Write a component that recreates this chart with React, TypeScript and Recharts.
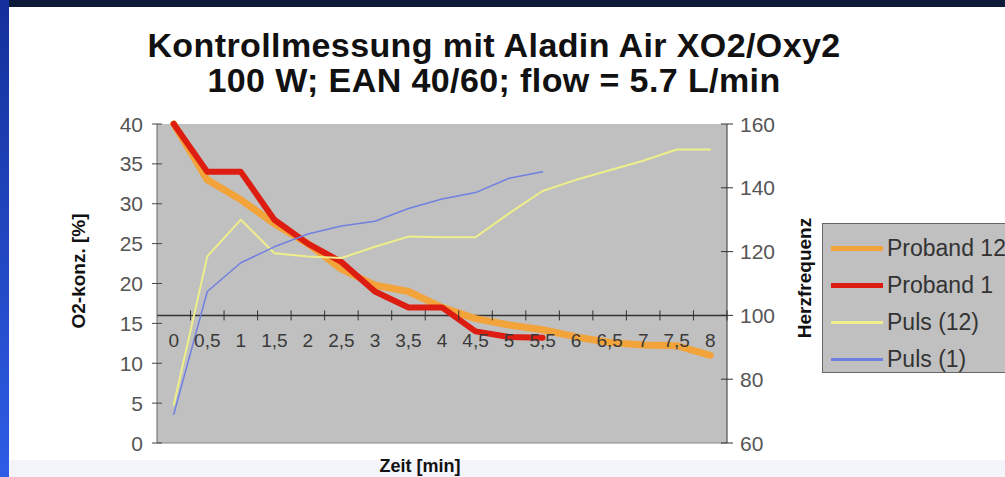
import {
  CartesianGrid,
  Legend,
  Line,
  LineChart,
  ReferenceLine,
  XAxis,
  YAxis,
} from "recharts";
import { JSX } from "react";

const times = ["0", "0,5", "1", "1,5", "2", "2,5", "3", "3,5", "4", "4,5", "5", "5,5", "6", "6,5", "7", "7,5", "8"];
const proband12 = [40, 33, 30.5, 27.5, 25, 21.8, 19.8, 19, 17, 15.6, 14.8, 14.2, 13.3, 12.6, 12.3, 12.2, 11];
const proband1 = [40, 34, 34, 28, 25, 22.7, 19, 17, 17, 14, 13.3, 13.2];
const puls12 = [72, 118.5, 130, 119.5, 118.5, 118, 121.5, 124.7, 124.5, 124.5, 132, 139, 142.5, 145.5, 148.5, 152, 152];
const puls1 = [69, 107.5, 116.5, 121.5, 125.5, 128, 129.5, 133.5, 136.5, 138.5, 143, 145];
const o2Ticks = [0, 5, 10, 15, 20, 25, 30, 35, 40];
const hrTicks = [60, 80, 100, 120, 140, 160];
const X_CROSS = 16;

const data = times.map((t, i) => ({
  t,
  proband12: proband12[i] ?? null,
  proband1: proband1[i] ?? null,
  puls12: puls12[i] ?? null,
  puls1: puls1[i] ?? null,
}));

const series = [
  { key: "proband12", name: "Proband 12", color: "#f2a33a", width: 7, legendW: 5, axis: "o2" },
  { key: "proband1", name: "Proband 1", color: "#dd1c12", width: 6, legendW: 5, axis: "o2" },
  { key: "puls12", name: "Puls (12)", color: "#eeee8a", width: 2, legendW: 3, axis: "hr" },
  { key: "puls1", name: "Puls (1)", color: "#6f80e0", width: 1.5, legendW: 2.5, axis: "hr" },
];

const W = 1005;
const H = 477;
const margin = { top: 124, right: 218, bottom: 32, left: 97 };
const X_AXIS_H = 2;
const PLOT_W = W - margin.left - margin.right - 120;
const PLOT_H = H - margin.top - margin.bottom - X_AXIS_H;
const STEP = PLOT_W / times.length;
const FONT = "'Liberation Sans', Arial, sans-serif";

function LeftTick(props: any): JSX.Element {
  const { x, y, payload } = props;
  return (
    <g>
      <line x1={x + 9} x2={x + 19} y1={y} y2={y} stroke="#444" />
      <text x={x} y={y} dy="0.36em" textAnchor="end" fill="#555" fontSize={21} fontFamily={FONT}>
        {payload.value}
      </text>
    </g>
  );
}

function RightTick(props: any): JSX.Element {
  const { x, y, payload } = props;
  return (
    <g>
      <line x1={x - 19} x2={x - 7} y1={y} y2={y} stroke="#333" />
      <text x={x} y={y} dy="0.36em" textAnchor="start" fill="#555" fontSize={21} fontFamily={FONT}>
        {payload.value}
      </text>
    </g>
  );
}

function TimeTick(props: any): JSX.Element {
  const { x, y, payload } = props;
  const cross = y - (PLOT_H * X_CROSS) / 40;
  return (
    <g>
      <line x1={x + STEP / 2} x2={x + STEP / 2} y1={cross - 5} y2={cross + 5} stroke="#333" />
      <text x={x} y={cross + 25} dy="0.36em" textAnchor="middle" fill="#3a3a3a" fontSize={19} fontFamily={FONT}>
        {payload.value}
      </text>
    </g>
  );
}

function LegendBox(): JSX.Element {
  return (
    <div
      style={{
        background: "#c0c0c0",
        border: "1.5px solid #666",
        width: 200,
        height: 150,
        boxSizing: "border-box",
        paddingTop: 6,
        fontFamily: FONT,
      }}
    >
      {series.map((s) => (
        <div key={s.key} style={{ display: "flex", alignItems: "center", height: 37 }}>
          <div style={{ width: 52, height: s.legendW, background: s.color, marginLeft: 8, marginRight: 4 }} />
          <span style={{ fontSize: 23, color: "#333", whiteSpace: "nowrap" }}>{s.name}</span>
        </div>
      ))}
    </div>
  );
}

const abs = (left: number, top: number, extra: object = {}) =>
  ({ position: "absolute", left, top, transform: "translate(-50%, -50%)", whiteSpace: "nowrap", fontFamily: FONT, ...extra }) as const;

const titleStyle = { fontSize: 34, lineHeight: "34px", fontWeight: "bold", color: "#111", letterSpacing: 0.4 };

export default function App(): JSX.Element {
  return (
    <div style={{ position: "absolute", left: 0, top: 0, width: W, height: H, overflow: "hidden", background: "#fff" }}>
      <div style={{ position: "absolute", left: 0, top: 0, width: W, height: 7, background: "#0d1a38" }} />
      <div style={{ position: "absolute", left: 0, top: 0, width: 9, height: H, background: "linear-gradient(#14309a, #2d5de6)" }} />
      <div style={{ position: "absolute", left: 9, top: 460, width: W, height: 17, background: "#f3f5fa" }} />

      <div style={abs(494, 45, titleStyle)}>Kontrollmessung mit Aladin Air XO2/Oxy2</div>
      <div style={abs(494, 80, titleStyle)}>100 W; EAN 40/60; flow = 5.7 L/min</div>

      <div style={{ position: "absolute", left: 0, top: 0 }}>
        <LineChart width={W} height={H} data={data} margin={margin}>
          <CartesianGrid fill="#c0c0c0" stroke="none" horizontal={false} vertical={false} yAxisId="o2" />
          <XAxis
            dataKey="t"
            height={X_AXIS_H}
            axisLine={false}
            tickLine={false}
            tickSize={0}
            tickMargin={0}
            interval={0}
            padding={{ left: STEP / 2, right: STEP / 2 }}
            tick={(p: any) => <TimeTick {...p} />}
          />
          <YAxis
            yAxisId="o2"
            orientation="left"
            width={60}
            domain={[0, 40]}
            ticks={o2Ticks}
            tickSize={6}
            tickMargin={8}
            tickLine={false}
            axisLine={{ stroke: "#666" }}
            tick={<LeftTick />}
          />
          <YAxis
            yAxisId="hr"
            orientation="right"
            width={60}
            domain={[60, 160]}
            ticks={hrTicks}
            tickSize={6}
            tickMargin={7}
            tickLine={false}
            axisLine={{ stroke: "#333" }}
            tick={<RightTick />}
          />
          <ReferenceLine yAxisId="o2" y={0} stroke="#888" />
          <ReferenceLine yAxisId="o2" y={X_CROSS} stroke="#333" strokeWidth={1.5} />
          {series.map((s) => (
            <Line
              key={s.key}
              yAxisId={s.axis}
              dataKey={s.key}
              name={s.name}
              type="linear"
              stroke={s.color}
              strokeWidth={s.width}
              strokeLinejoin="round"
              strokeLinecap="round"
              dot={false}
              activeDot={false}
              isAnimationActive={false}
            />
          ))}
          <Legend
            layout="vertical"
            verticalAlign="middle"
            align="center"
            content={<LegendBox />}
            wrapperStyle={{ position: "absolute", left: 822, top: 223, width: 200 }}
          />
        </LineChart>
      </div>

      <div style={abs(79, 271, { fontSize: 19, fontWeight: "bold", color: "#111", transform: "translate(-50%, -50%) rotate(-90deg)" })}>
        O2-konz. [%]
      </div>
      <div style={abs(805, 278, { fontSize: 19, fontWeight: "bold", color: "#111", transform: "translate(-50%, -50%) rotate(-90deg)" })}>
        Herzfrequenz
      </div>
      <div style={abs(420, 466, { fontSize: 18, fontWeight: "bold", color: "#111" })}>Zeit [min]</div>
    </div>
  );
}
